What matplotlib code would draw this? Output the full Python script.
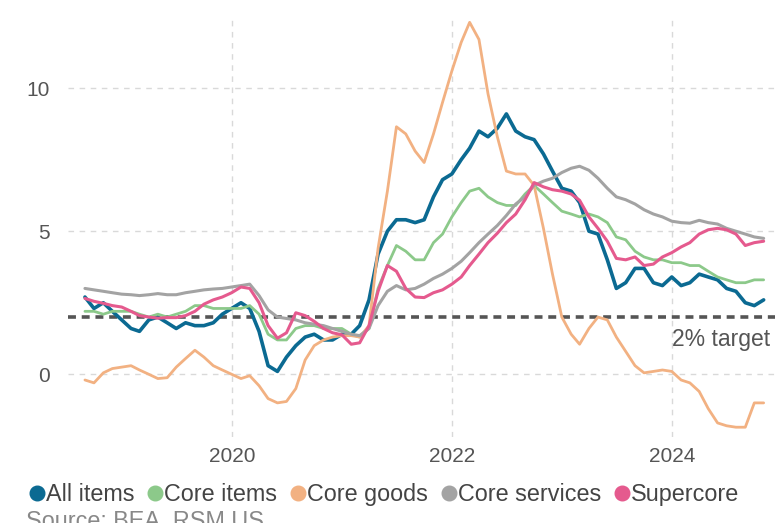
import matplotlib
matplotlib.use("Agg")
import matplotlib.pyplot as plt
import matplotlib.dates as mdates
from matplotlib.lines import Line2D
import pandas as pd

plt.rcParams["font.family"] = ["Liberation Sans", "DejaVu Sans"]

# Monthly year-over-year inflation, Aug 2018 - Oct 2024 (%)
dates = pd.date_range("2018-08-31", periods=75, freq="ME")

all_items = [
    2.7, 2.3, 2.5, 2.2, 1.9,
    1.6, 1.5, 1.9, 2.0, 1.8, 1.6, 1.8, 1.7, 1.7, 1.8, 2.1, 2.3,
    2.5, 2.3, 1.5, 0.3, 0.1, 0.6, 1.0, 1.3, 1.4, 1.2, 1.2, 1.4,
    1.4, 1.7, 2.6, 4.2, 5.0, 5.4, 5.4, 5.3, 5.4, 6.2, 6.8, 7.0,
    7.5, 7.9, 8.5, 8.3, 8.6, 9.1, 8.5, 8.3, 8.2, 7.7, 7.1, 6.5,
    6.4, 6.0, 5.0, 4.9, 4.0, 3.0, 3.2, 3.7, 3.7, 3.2, 3.1, 3.4,
    3.1, 3.2, 3.5, 3.4, 3.3, 3.0, 2.9, 2.5, 2.4, 2.6,
]
core_items = [
    2.2, 2.2, 2.1, 2.2, 2.2,
    2.2, 2.1, 2.0, 2.1, 2.0, 2.1, 2.2, 2.4, 2.4, 2.3, 2.3, 2.3,
    2.3, 2.4, 2.1, 1.4, 1.2, 1.2, 1.6, 1.7, 1.7, 1.6, 1.6, 1.6,
    1.4, 1.3, 1.6, 3.0, 3.8, 4.5, 4.3, 4.0, 4.0, 4.6, 4.9, 5.5,
    6.0, 6.4, 6.5, 6.2, 6.0, 5.9, 5.9, 6.3, 6.6, 6.3, 6.0, 5.7,
    5.6, 5.5, 5.6, 5.5, 5.3, 4.8, 4.7, 4.3, 4.1, 4.0, 4.0, 3.9,
    3.9, 3.8, 3.8, 3.6, 3.4, 3.3, 3.2, 3.2, 3.3, 3.3,
]
core_goods = [
    -0.2, -0.3, 0.05, 0.2, 0.25,
    0.3, 0.15, 0.0, -0.15, -0.12, 0.25, 0.55, 0.84, 0.6, 0.3, 0.15, 0.0,
    -0.15, -0.05, -0.4, -0.85, -1.0, -0.95, -0.5, 0.5, 1.0, 1.2, 1.3, 1.35,
    1.35, 1.3, 1.7, 4.4, 6.4, 8.65, 8.4, 7.8, 7.4, 8.4, 9.5, 10.6,
    11.6, 12.3, 11.7, 9.8, 8.3, 7.1, 7.0, 7.0, 6.6, 5.1, 3.5, 2.0,
    1.4, 1.05, 1.6, 2.0, 1.9, 1.3, 0.8, 0.3, 0.05, 0.1, 0.15, 0.1,
    -0.2, -0.3, -0.6, -1.2, -1.7, -1.8, -1.85, -1.85, -1.0, -1.0,
]
core_services = [
    3.0, 2.95, 2.9, 2.85, 2.8,
    2.78, 2.75, 2.78, 2.82, 2.78, 2.78, 2.85, 2.9, 2.95, 2.98, 3.0, 3.05,
    3.1, 3.15, 2.75, 2.25, 2.0, 1.95, 1.9, 1.8, 1.75, 1.7, 1.6, 1.5,
    1.4, 1.35, 1.6, 2.4, 2.9, 3.1, 2.95, 3.0, 3.15, 3.35, 3.5, 3.7,
    3.95, 4.25, 4.6, 4.9, 5.2, 5.55, 5.95, 6.2, 6.6, 6.75, 6.85, 7.05,
    7.2, 7.27, 7.13, 6.85, 6.5, 6.2, 6.1, 5.95, 5.75, 5.6, 5.5, 5.35,
    5.3, 5.28, 5.38, 5.3, 5.25, 5.1, 5.0, 4.9, 4.8, 4.75,
]
supercore = [
    2.65, 2.55, 2.48, 2.4, 2.35,
    2.2, 2.05, 2.0, 1.96, 1.98, 1.98, 2.05, 2.2, 2.45, 2.6, 2.7, 2.85,
    3.05, 3.0, 2.5, 1.7, 1.26, 1.45, 2.15, 2.05, 1.85, 1.6, 1.45, 1.38,
    1.05, 1.1, 1.7, 2.9, 3.8, 3.6, 3.0, 2.7, 2.68, 2.85, 2.95, 3.15,
    3.4, 3.8, 4.2, 4.6, 4.93, 5.3, 5.6, 6.1, 6.7, 6.55, 6.45, 6.4,
    6.3, 6.08, 5.5, 5.1, 4.65, 4.05, 4.0, 4.1, 3.8, 3.85, 4.1, 4.25,
    4.45, 4.6, 4.9, 5.05, 5.1, 5.05, 4.9, 4.5, 4.6, 4.65,
]

target = 2.0
y_ticks = [0, 5, 10]
x_tick_years = [2020, 2022, 2024]

series = [
    ("All items", all_items, "#0b6a92", 2.6),
    ("Core items", core_items, "#8cc98a", 2.0),
    ("Core goods", core_goods, "#f2b182", 2.0),
    ("Core services", core_services, "#a3a3a3", 2.2),
    ("Supercore", supercore, "#e55a8e", 2.2),
]

fig = plt.figure(figsize=(7.79, 5.23), dpi=100)
ax = fig.add_axes([0.087, 0.164, 0.908, 0.807])

# background grid
for yv in y_ticks:
    ax.axhline(yv, color="#d9d9d9", lw=1.0, ls=(0, (4, 4)), zorder=0)
for yr in x_tick_years:
    ax.axvline(pd.Timestamp(f"{yr}-01-01"), color="#d9d9d9", lw=1.0,
               ls=(0, (4, 4)), zorder=0)

# 2% target line
ax.axhline(target, color="#555555", lw=2.6, ls=(0, (2.2, 1.6)), zorder=1)
ax.text(0.993, target - 0.4, "2% target", transform=ax.get_yaxis_transform(),
        ha="right", va="top", fontsize=16.5, color="#555555")

# draw lighter lines first so the headline series sits on top
order = [2, 1, 3, 4, 0]
for k in order:
    name, vals, col, lw = series[k]
    ax.plot(dates, vals, color=col, lw=lw, solid_capstyle="round",
            solid_joinstyle="round", zorder=2 + k)

ax.set_xlim(pd.Timestamp("2018-07-05"), pd.Timestamp("2024-12-08"))
ax.set_ylim(-2.2, 12.55)
ax.set_yticks(y_ticks)
ax.set_xticks([pd.Timestamp(f"{yr}-01-01") for yr in x_tick_years])
ax.xaxis.set_major_formatter(mdates.DateFormatter("%Y"))
ax.tick_params(axis="both", length=0, labelsize=15, labelcolor="#555555")
ax.tick_params(axis="y", pad=13)
ax.tick_params(axis="x", pad=7)
for sp in ax.spines.values():
    sp.set_visible(False)

handles = [Line2D([], [], ls="none", marker="o", markersize=10.5,
                  markerfacecolor=c, markeredgecolor=c)
           for _, _, c, _ in series]
labels = [s[0] for s in series]
fig.legend(handles, labels, loc="center left", bbox_to_anchor=(0.035, 0.055),
           ncol=5, frameon=False, fontsize=16.8, handletextpad=0.0,
           columnspacing=0.48, handlelength=0.8, labelcolor="#444444",
           borderaxespad=0, borderpad=0)

fig.text(0.033, 1 - 510 / 523, "Source: BEA, RSM US", ha="left", va="top",
         fontsize=16.8, color="#888888")

fig.savefig("out.png", dpi=100)
